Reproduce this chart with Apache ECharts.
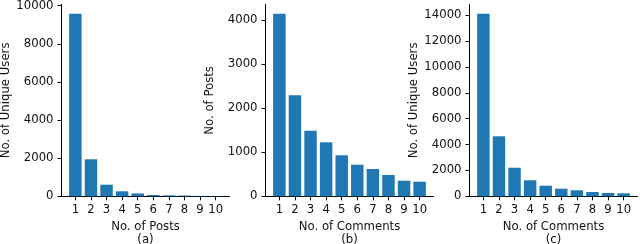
<!DOCTYPE html>
<html>
<head>
<meta charset="utf-8">
<script src="https://cdn.jsdelivr.net/npm/echarts@6/dist/echarts.min.js"></script>
<style>html,body{margin:0;padding:0;background:#fff}#c{width:640px;height:244px}</style>
</head>
<body>
<div id="c"></div>
<script>
const categories = [1, 2, 3, 4, 5, 6, 7, 8, 9, 10];
const postsPerUser = [9580, 1941, 609, 262, 150, 70, 50, 40, 20, 15];
const commentsPerPost = [4144, 2292, 1489, 1225, 930, 717, 619, 483, 354, 331];
const commentsPerUser = [14129, 4641, 2212, 1238, 820, 588, 464, 333, 255, 230];
const yTicksA = [0, 2000, 4000, 6000, 8000, 10000];
const yTicksB = [0, 1000, 2000, 3000, 4000];
const yTicksC = [0, 2000, 4000, 6000, 8000, 10000, 12000, 14000];
const xNames = ['No. of Posts\n(a)', 'No. of Comments\n(b)', 'No. of Comments\n(c)'];
const yNames = ['No. of Unique Users', 'No. of Posts', 'No. of Unique Users'];

const FONT = 'DejaVu Sans';
const FS = 11.7;
const lefts = [61.5, 265.5, 469.5];
const W = 168, TOP = 4.5, H = 191.8;
const xmin = categories[0] - 0.4 - 0.05 * (categories.length - 1 + 0.8);
const xmax = categories[categories.length - 1] + 0.4 + 0.05 * (categories.length - 1 + 0.8);
const seriesData = [postsPerUser, commentsPerPost, commentsPerUser];
const yTicks = [yTicksA, yTicksB, yTicksC];

const axisLine = { show: true, onZero: false, lineStyle: { color: '#000', width: 1 } };
const option = {
  animation: false,
  textStyle: { fontFamily: FONT },
  grid: lefts.map(l => ({ left: l, top: TOP, width: W, height: H, containLabel: false, outerBoundsMode: 'none' })),
  xAxis: lefts.map((l, i) => ({
    type: 'value', gridIndex: i, min: xmin, max: xmax,
    name: xNames[i], nameLocation: 'middle', nameGap: 23.5, nameMoveOverlap: false,
    nameTextStyle: { color: '#111', fontSize: FS, fontFamily: FONT, lineHeight: 13.5, verticalAlign: 'top' },
    axisLine: axisLine,
    axisTick: { show: true, inside: false, length: 4, lineStyle: { color: '#000', width: 1 }, customValues: categories },
    axisLabel: { color: '#111', fontSize: FS, fontFamily: FONT, margin: 8, customValues: categories, formatter: v => String(v) },
    splitLine: { show: false }
  })),
  yAxis: lefts.map((l, i) => ({
    type: 'value', gridIndex: i, min: 0, max: Math.max(...seriesData[i]) * 1.05,
    name: yNames[i], nameLocation: 'middle', nameGap: 49.5, nameMoveOverlap: false,
    nameTextStyle: { color: '#111', fontSize: FS, fontFamily: FONT },
    axisLine: axisLine,
    axisTick: { show: true, inside: false, length: 4, lineStyle: { color: '#000', width: 1 }, customValues: yTicks[i] },
    axisLabel: { color: '#111', fontSize: FS, fontFamily: FONT, margin: 8, customValues: yTicks[i], formatter: v => String(v) },
    splitLine: { show: false }
  })),
  series: seriesData.map((arr, i) => ({
    type: 'bar', xAxisIndex: i, yAxisIndex: i, barWidth: '80%',
    data: categories.map((c, j) => [c, arr[j]]),
    itemStyle: { color: '#1f77b4' }
  }))
};
const chart = echarts.init(document.getElementById('c'), null, { renderer: 'canvas' });
chart.setOption(option);
</script>
</body>
</html>
